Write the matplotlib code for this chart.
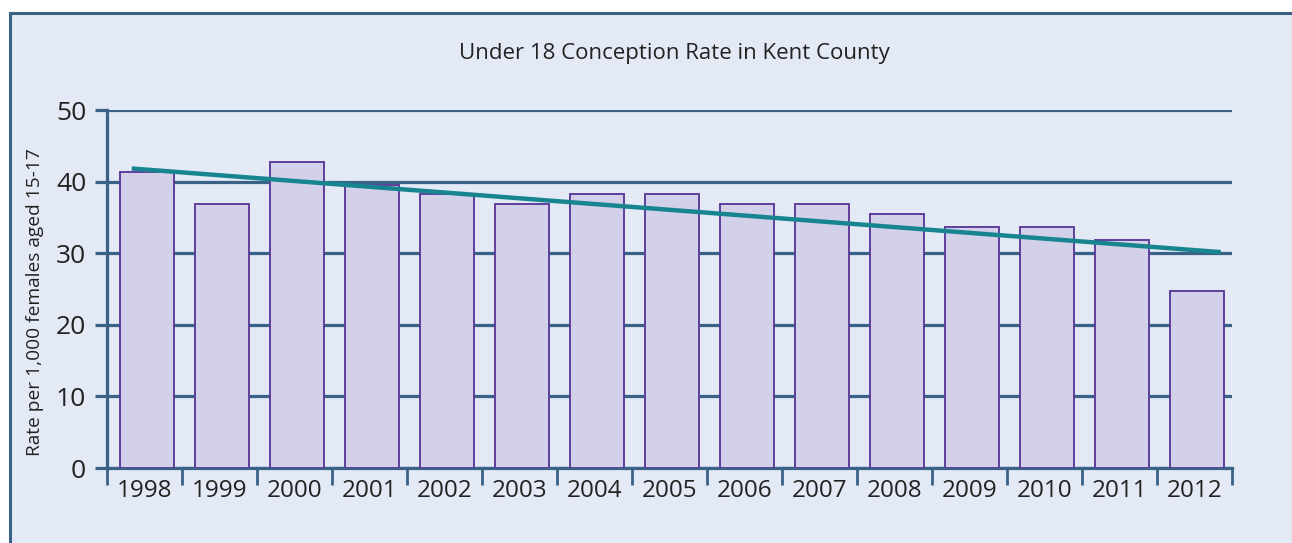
import numpy as np
import matplotlib
matplotlib.use("Agg")
import matplotlib.pyplot as plt
from matplotlib.patches import Rectangle
from matplotlib.ticker import FixedLocator

years = ['1998', '1999', '2000', '2001', '2002', '2003', '2004', '2005',
         '2006', '2007', '2008', '2009', '2010', '2011', '2012']
rates = [41.4, 36.9, 42.7, 39.5, 38.3, 36.9, 38.2, 38.3,
         36.9, 36.9, 35.5, 33.7, 33.6, 31.9, 24.7]
y_ticks = [0, 10, 20, 30, 40, 50]

bg = '#e3e9f5'
axis_col = '#3a6186'
bar_face = '#d3d1e9'
bar_edge = '#5e3f9c'
trend_col = '#17858f'

plt.rcParams['font.family'] = ['Open Sans', 'DejaVu Sans']

fig = plt.figure(figsize=(12.92, 5.43), dpi=100, facecolor='white')
# outer panel with border on top and left
fig.patches.append(Rectangle((10 / 1292, -0.1), 1.2, 0.1 + 1 - 13 / 543,
                             transform=fig.transFigure, facecolor=bg,
                             edgecolor=axis_col, linewidth=2.2, zorder=-5))

ax = fig.add_axes([107 / 1292, 75 / 543, (1232 - 107) / 1292, (468 - 110) / 543])
ax.set_facecolor('none')

x = np.arange(len(years))
ax.bar(x + 0.03, rates, width=0.72, color=bar_face, edgecolor=bar_edge,
       linewidth=1.4, zorder=3)

# linear trend line
coef = np.polyfit(x, rates, 1)
xt = np.array([-0.17, 14.35])
ax.plot(xt, np.polyval(coef, xt) - 0.3, color=trend_col, linewidth=3.2,
        zorder=4, solid_capstyle='butt')

ax.set_xlim(-0.5, 14.5)
ax.set_ylim(0, 50)
ax.set_yticks(y_ticks)
ax.yaxis.grid(True, color=axis_col, linewidth=2.3, zorder=1)
ax.set_axisbelow(True)

ax.set_xticks(x)
ax.set_xticklabels(years, fontsize=17.5, color='#222222')
ax.xaxis.set_minor_locator(FixedLocator(np.arange(-0.5, 15, 1)))
ax.tick_params(axis='x', which='major', length=0, pad=8)
ax.tick_params(axis='x', which='minor', length=12, width=2.0, color=axis_col)
ax.tick_params(axis='y', length=9, width=2.3, color=axis_col, pad=6,
               labelsize=19, labelcolor='#222222')

for s in ['top', 'right']:
    ax.spines[s].set_visible(False)
ax.spines['left'].set_color(axis_col)
ax.spines['left'].set_linewidth(2.3)
ax.spines['bottom'].set_color(axis_col)
ax.spines['bottom'].set_linewidth(2.3)

ax.set_ylabel('Rate per 1,000 females aged 15-17', fontsize=13.8,
              color='#222222')
ax.yaxis.set_label_coords(35 / 1292, 1 - 302 / 543, transform=fig.transFigure)
ax.yaxis.label.set_va('center')

fig.text(674 / 1292, 1 - 53 / 543, 'Under 18 Conception Rate in Kent County',
         ha='center', va='center', fontsize=16, color='#222222')

fig.savefig('out.png', dpi=100, facecolor='white')
